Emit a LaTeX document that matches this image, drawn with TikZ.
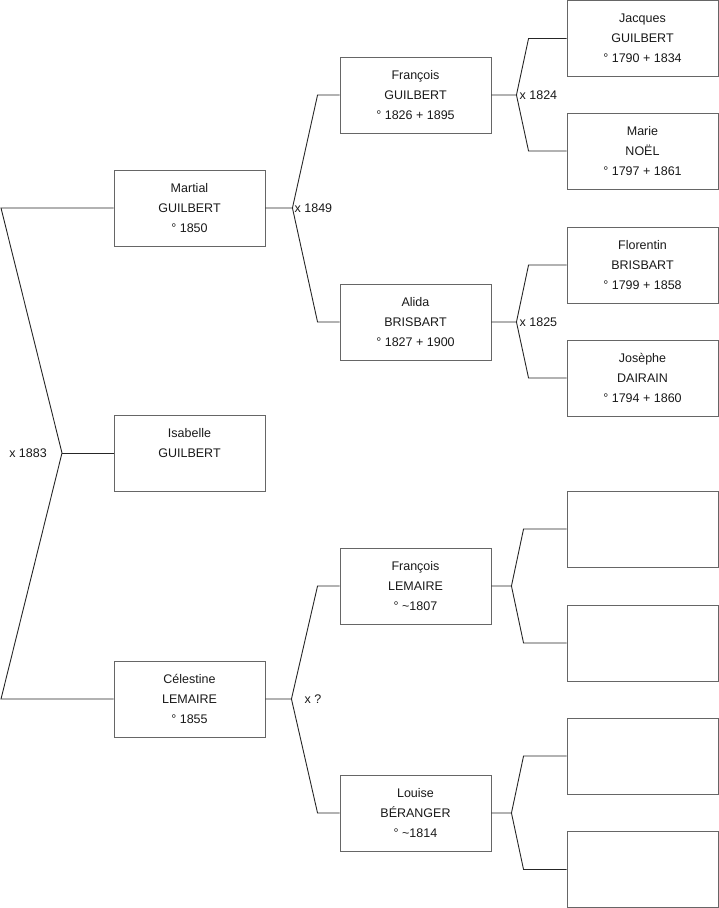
\documentclass[tikz,border=0pt]{standalone}
\usepackage{fontspec}
\setmainfont{Liberation Sans}
\tikzset{
	person/.style={draw=black!60, line width=0.9pt, minimum width=151pt, minimum height=76pt, align=center, inner sep=0pt, text=black!90, font=\fontsize{12.5}{20}\selectfont},
	link/.style={draw=black!85, line width=0.9pt},
	wed/.style={inner sep=0pt, text=black!90, font=\fontsize{12.5}{15}\selectfont}
}
\begin{document}
\begin{tikzpicture}[x=1pt,y=-1pt]
			\useasboundingbox (0,0) rectangle (719,908);
			\node[person] (martial) at (189.5,208) {Martial\\GUILBERT\\° 1850};
			\node[person] (isabelle) at (189.5,453) {Isabelle\\GUILBERT\\\mbox{}};
			\node[person] (celestine) at (189.5,699) {Célestine\\LEMAIRE\\° 1855};
			\node[person] (francoisG) at (415.5,95) {François\\GUILBERT\\° 1826 + 1895};
			\node[person] (alida) at (415.5,322) {Alida\\BRISBART\\° 1827 + 1900};
			\node[person] (francoisL) at (415.5,586) {François\\LEMAIRE\\° \textasciitilde1807};
			\node[person] (louise) at (415.5,813) {Louise\\BÉRANGER\\° \textasciitilde1814};
			\node[person] (jacques) at (642.5,38.5) {Jacques\\GUILBERT\\° 1790 + 1834};
			\node[person] (marie) at (642.5,151) {Marie\\NOËL\\° 1797 + 1861};
			\node[person] (florentin) at (642.5,265) {Florentin\\BRISBART\\° 1799 + 1858};
			\node[person] (josephe) at (642.5,378) {Josèphe\\DAIRAIN\\° 1794 + 1860};
			\node[person] (e1) at (642.5,529) {};
			\node[person] (e2) at (642.5,643) {};
			\node[person] (e3) at (642.5,756) {};
			\node[person] (e4) at (642.5,869.5) {};
			\coordinate (lx) at (1,0);
			\coordinate (j0) at (62,453);
			\draw[link] (martial.west) -- (martial.west -| lx) -- (j0) -- (celestine.west -| lx) -- (celestine.west);
			\draw[link] (j0) -- (isabelle.west);
			\node[wed, anchor=east] at ([xshift=-15pt]j0) {x 1883};
			\draw[link] (martial.east) -- ++(27,0) coordinate (j1) -- ([xshift=-22pt]francoisG.west) -- (francoisG.west);
			\draw[link] (j1) -- ([xshift=-22pt]alida.west) -- (alida.west);
			\node[wed, anchor=west] at ([xshift=2pt]j1) {x 1849};
			\draw[link] (celestine.east) -- ++(26,0) coordinate (j2) -- ([xshift=-22pt]francoisL.west) -- (francoisL.west);
			\draw[link] (j2) -- ([xshift=-22pt]louise.west) -- (louise.west);
			\node[wed, anchor=west] at ([xshift=13pt]j2) {x ?};
			\draw[link] (francoisG.east) -- ++(25,0) coordinate (j3) -- ([xshift=-38pt]jacques.west) -- (jacques.west);
			\draw[link] (j3) -- ([xshift=-38pt]marie.west) -- (marie.west);
			\node[wed, anchor=west] at ([xshift=3pt]j3) {x 1824};
			\draw[link] (alida.east) -- ++(25,0) coordinate (j4) -- ([xshift=-38pt]florentin.west) -- (florentin.west);
			\draw[link] (j4) -- ([xshift=-38pt]josephe.west) -- (josephe.west);
			\node[wed, anchor=west] at ([xshift=3pt]j4) {x 1825};
			\draw[link] (francoisL.east) -- ++(20,0) coordinate (j5) -- ([xshift=-43pt]e1.west) -- (e1.west);
			\draw[link] (j5) -- ([xshift=-43pt]e2.west) -- (e2.west);
			\draw[link] (louise.east) -- ++(20,0) coordinate (j6) -- ([xshift=-43pt]e3.west) -- (e3.west);
			\draw[link] (j6) -- ([xshift=-43pt]e4.west) -- (e4.west);
		\end{tikzpicture}
\end{document}
